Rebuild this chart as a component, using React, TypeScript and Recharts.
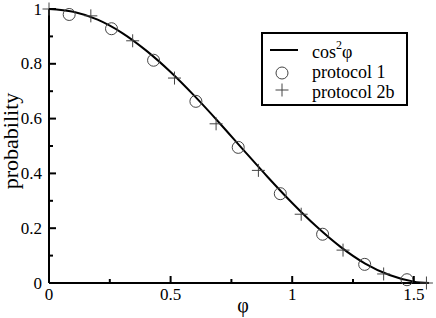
import React from 'react';
import { ComposedChart, Line, Scatter, XAxis, YAxis, Legend } from 'recharts';

const FONT = '"Liberation Serif", "Times New Roman", serif';

const CURVE_X = [0, 0.1, 0.2, 0.3, 0.4, 0.5, 0.6, 0.7, 0.8, 0.9, 1.0, 1.1, 1.2, 1.3, 1.4, 1.5, 1.5625];
const CURVE_Y = [1, 0.99, 0.961, 0.913, 0.848, 0.77, 0.681, 0.585, 0.485, 0.386, 0.292, 0.206, 0.131, 0.071, 0.029, 0.005, 0.0];

const P1_X = [0.083, 0.257, 0.43, 0.604, 0.778, 0.951, 1.125, 1.298, 1.472];
const P1_Y = [0.98, 0.928, 0.813, 0.663, 0.495, 0.326, 0.178, 0.068, 0.012];

const P2_X = [0, 0.172, 0.344, 0.516, 0.687, 0.861, 1.037, 1.209, 1.376, 1.552];
const P2_Y = [1.0, 0.975, 0.884, 0.748, 0.581, 0.411, 0.251, 0.12, 0.033, 0.0];

const X_TICKS = [0, 0.25, 0.5, 0.75, 1, 1.25, 1.5];
const X_MAJOR = [0, 0.5, 1, 1.5];
const Y_TICKS = [0, 0.1, 0.2, 0.3, 0.4, 0.5, 0.6, 0.7, 0.8, 0.9, 1];
const Y_MAJOR = [0, 0.2, 0.4, 0.6, 0.8, 1];

const curve = CURVE_X.map((x, i) => ({ x, y: CURVE_Y[i] }));
const p1 = P1_X.map((x, i) => ({ x, y: P1_Y[i] }));
const p2 = P2_X.map((x, i) => ({ x, y: P2_Y[i] }));

const isMajor = (arr: number[], v: number) => arr.some((m) => Math.abs(m - v) < 1e-9);

const textStyle = { fontFamily: FONT };

const BottomTick = (props: any) => {
  const { x, y, payload } = props;
  const major = isMajor(X_MAJOR, payload.value);
  return (
    <g>
      <line x1={x} x2={x} y1={y} y2={y - (major ? 7 : 4)} stroke="#000" strokeWidth={2} />
      {major && (
        <text x={x} y={y + 17} textAnchor="middle" fontSize={17} style={textStyle} fill="#000">
          {String(payload.value)}
        </text>
      )}
    </g>
  );
};

const TopTick = (props: any) => {
  const { x, y, payload } = props;
  const major = isMajor(X_MAJOR, payload.value);
  return <line x1={x} x2={x} y1={y} y2={y + (major ? 7 : 4)} stroke="#000" strokeWidth={2} />;
};

const LeftTick = (props: any) => {
  const { x, y, payload } = props;
  const major = isMajor(Y_MAJOR, payload.value);
  return (
    <g>
      <line x1={x} x2={x + (major ? 7 : 4)} y1={y} y2={y} stroke="#000" strokeWidth={2} />
      {major && (
        <text x={x - 7} y={y + 5.5} textAnchor="end" fontSize={17} style={textStyle} fill="#000">
          {String(payload.value)}
        </text>
      )}
    </g>
  );
};

const RightTick = (props: any) => {
  const { x, y, payload } = props;
  const major = isMajor(Y_MAJOR, payload.value);
  return <line x1={x} x2={x - (major ? 7 : 4)} y1={y} y2={y} stroke="#000" strokeWidth={2} />;
};

const CircleShape = (props: any) => {
  const { cx, cy } = props;
  return <circle cx={cx} cy={cy} r={6} fill="none" stroke="#444" strokeWidth={1} />;
};

const PlusShape = (props: any) => {
  const { cx, cy } = props;
  return (
    <g>
      <line x1={cx - 6.5} x2={cx + 6.5} y1={cy} y2={cy} stroke="#444" strokeWidth={1} />
      <line x1={cx} x2={cx} y1={cy - 6.5} y2={cy + 6.5} stroke="#444" strokeWidth={1} />
    </g>
  );
};

const LegendBox = () => (
  <svg width={147} height={74} style={{ display: 'block' }}>
    <rect x={1} y={1} width={145} height={72} fill="#fff" stroke="#000" strokeWidth={2} />
    <line x1={9} x2={37} y1={18} y2={18} stroke="#000" strokeWidth={2} />
    <circle cx={21} cy={41} r={6} fill="none" stroke="#444" strokeWidth={1} />
    <line x1={14.5} x2={27.5} y1={58} y2={58} stroke="#444" strokeWidth={1} />
    <line x1={21} x2={21} y1={51.5} y2={64.5} stroke="#444" strokeWidth={1} />
    <text x={51} y={26} fontSize={18} style={textStyle} fill="#000">
      cos
      <tspan dy={-9} fontSize={12}>2</tspan>
      <tspan dy={9} fontSize={18}>φ</tspan>
    </text>
    <text x={51} y={46} fontSize={18} style={textStyle} fill="#000">protocol 1</text>
    <text x={51} y={66} fontSize={18} style={textStyle} fill="#000">protocol 2b</text>
  </svg>
);

const XLabel = (props: any) => {
  const vb = props.viewBox || { x: 49, y: 283, width: 380, height: 35 };
  return (
    <text x={vb.x + vb.width / 2 + 4} y={vb.y + 29} textAnchor="middle" fontSize={20} style={textStyle} fill="#000">
      φ
    </text>
  );
};

const YLabel = (props: any) => {
  const vb = props.viewBox || { x: 9, y: 9, width: 40, height: 274 };
  const cx = vb.x + 8.5;
  const cy = vb.y + vb.height / 2 - 5;
  return (
    <text x={cx} y={cy} transform={`rotate(-90 ${cx} ${cy})`} textAnchor="middle" fontSize={22} style={textStyle} fill="#000">
      probability
    </text>
  );
};

export default function App() {
  return (
    <div style={{ position: 'absolute', left: 0, top: 0, background: '#fff' }}>
      <ComposedChart width={436} height={318} margin={{ top: 9, right: 7, bottom: 0, left: 9 }}>
        <XAxis
          xAxisId={0}
          dataKey="x"
          type="number"
          domain={[0, 1.5625]}
          ticks={X_TICKS}
          interval={0}
          height={35}
          tickSize={0}
          tickMargin={0}
          tick={<BottomTick />}
          axisLine={{ stroke: '#000', strokeWidth: 2 }}
          label={<XLabel />}
        />
        <XAxis
          xAxisId="top"
          orientation="top"
          type="number"
          domain={[0, 1.5625]}
          ticks={X_TICKS}
          interval={0}
          height={0}
          tickSize={0}
          tickMargin={0}
          tick={<TopTick />}
          axisLine={{ stroke: '#000', strokeWidth: 2 }}
        />
        <YAxis
          yAxisId={0}
          dataKey="y"
          type="number"
          domain={[0, 1]}
          ticks={Y_TICKS}
          interval={0}
          width={40}
          tickSize={0}
          tickMargin={0}
          tick={<LeftTick />}
          axisLine={{ stroke: '#000', strokeWidth: 2 }}
          label={<YLabel />}
        />
        <YAxis
          yAxisId="right"
          orientation="right"
          type="number"
          domain={[0, 1]}
          ticks={Y_TICKS}
          interval={0}
          width={0}
          tickSize={0}
          tickMargin={0}
          tick={<RightTick />}
          axisLine={{ stroke: '#000', strokeWidth: 2 }}
        />
        <Line
          data={curve}
          dataKey="y"
          type="monotone"
          stroke="#000"
          strokeWidth={2}
          dot={false}
          isAnimationActive={false}
          name="cos²φ"
        />
        <Scatter data={p1} dataKey="y" shape={<CircleShape />} isAnimationActive={false} name="protocol 1" />
        <Scatter data={p2} dataKey="y" shape={<PlusShape />} isAnimationActive={false} name="protocol 2b" />
        <Legend
          layout="vertical"
          align="center"
          verticalAlign="middle"
          content={() => <LegendBox />}
          wrapperStyle={{ position: 'absolute', left: 261, top: 32, width: 147, height: 74 }}
        />
      </ComposedChart>
    </div>
  );
}
